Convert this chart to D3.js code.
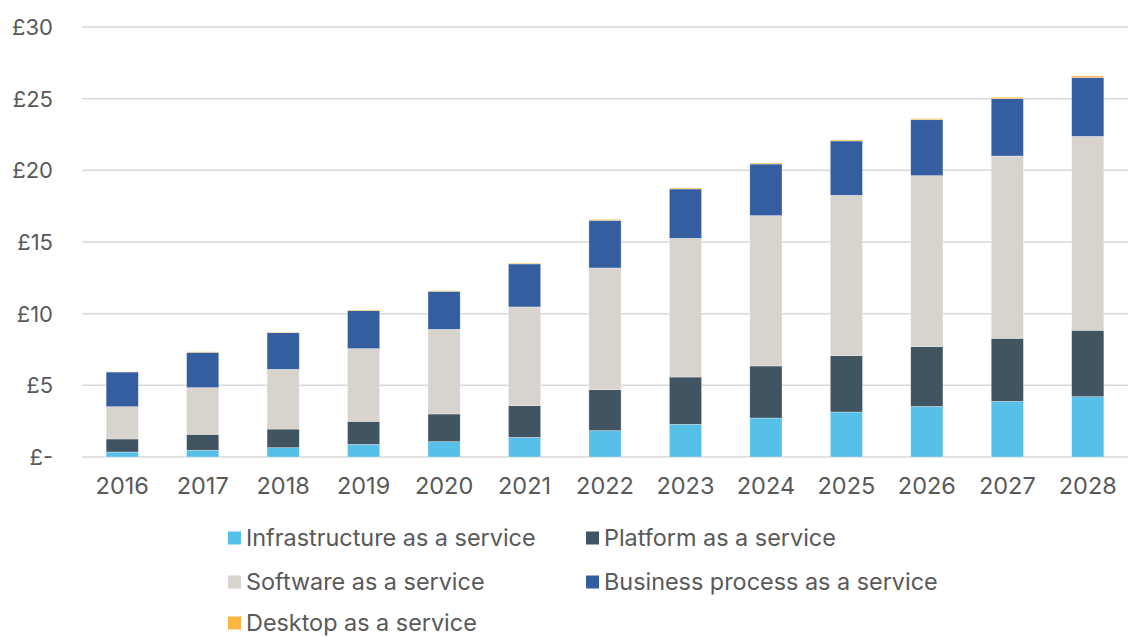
<!DOCTYPE html>
<meta charset="utf-8">
<style>
  body { margin: 0; background: #fff; }
  svg text { font-family: Inter, Roboto, "Noto Sans", sans-serif; fill: #595959; }
  .grid line { stroke: #d9d9d9; stroke-width: 1.5px; }
</style>
<svg width="1128" height="637"></svg>
<script src="https://cdn.jsdelivr.net/npm/d3@7"></script>
<script>

  // categories and series (values in £bn)
  var years = ["2016", "2017", "2018", "2019", "2020", "2021", "2022", "2023", "2024", "2025", "2026", "2027", "2028"];
  var seriesNames = ["Infrastructure as a service", "Platform as a service", "Software as a service",
    "Business process as a service", "Desktop as a service"];
  var iaas  = [0.35, 0.47, 0.65, 0.88, 1.07, 1.37, 1.84, 2.28, 2.72, 3.14, 3.53, 3.88, 4.21];
  var paas  = [0.91, 1.11, 1.30, 1.61, 1.93, 2.21, 2.86, 3.30, 3.63, 3.93, 4.17, 4.40, 4.63];
  var saas  = [2.25, 3.26, 4.17, 5.07, 5.91, 6.89, 8.49, 9.68, 10.49, 11.19, 11.93, 12.72, 13.53];
  var bpaas = [2.42, 2.46, 2.55, 2.65, 2.65, 3.00, 3.32, 3.44, 3.60, 3.79, 3.90, 4.00, 4.10];
  var daas  = [0.02, 0.04, 0.05, 0.05, 0.05, 0.06, 0.07, 0.07, 0.07, 0.07, 0.08, 0.10, 0.12];
  var yTicks = [0, 5, 10, 15, 20, 25, 30];
  var colors = ["#56c0e8", "#405462", "#d8d3cd", "#345e9f", "#fdb544"];

  var svg = d3.select("svg");

  // table for d3.stack
  var keys = ["iaas", "paas", "saas", "bpaas", "daas"];
  var table = years.map(function (y, i) {
    return { year: y, iaas: iaas[i], paas: paas[i], saas: saas[i], bpaas: bpaas[i], daas: daas[i] };
  });
  var stacked = d3.stack().keys(keys)(table);

  var x = d3.scaleBand()
    .domain(years)
    .range([82, 1128])
    .paddingInner(0.6)
    .paddingOuter(0.3);

  var y = d3.scaleLinear()
    .domain([0, 30])
    .range([457, 27]);

  var color = d3.scaleOrdinal().domain(keys).range(colors);

  // gridlines
  svg.append("g")
    .attr("class", "grid")
    .selectAll("line")
    .data(yTicks)
    .enter().append("line")
    .attr("x1", 82)
    .attr("x2", 1128)
    .attr("y1", function (d) { return y(d); })
    .attr("y2", function (d) { return y(d); });

  // y labels
  svg.append("g")
    .selectAll("text")
    .data(yTicks)
    .enter().append("text")
    .attr("x", 53)
    .attr("y", function (d) { return y(d); })
    .attr("dy", "0.36em")
    .attr("text-anchor", "end")
    .style("font-size", "22px")
    .text(function (d) { return d === 0 ? "£-" : "£" + d; });

  // bars
  svg.append("g")
    .selectAll("g")
    .data(stacked)
    .enter().append("g")
    .attr("fill", function (d) { return color(d.key); })
    .selectAll("rect")
    .data(function (d) { return d; })
    .enter().append("rect")
    .attr("x", function (d) { return x(d.data.year); })
    .attr("width", x.bandwidth())
    .attr("y", function (d) { return y(d[1]); })
    .attr("height", function (d) { return y(d[0]) - y(d[1]); })
    .attr("stroke", "#fff")
    .attr("stroke-opacity", 0.5)
    .attr("stroke-width", 0.6);

  // x labels
  svg.append("g")
    .selectAll("text")
    .data(years)
    .enter().append("text")
    .attr("x", function (d) { return x(d) + x.bandwidth() / 2; })
    .attr("y", 494)
    .attr("text-anchor", "middle")
    .style("font-size", "23.5px")
    .text(function (d) { return d; });

  // legend
  var legendPos = [[228, 538], [586, 538], [228, 582], [586, 582], [228, 623]];
  var legend = svg.append("g")
    .selectAll("g")
    .data(seriesNames)
    .enter().append("g")
    .attr("transform", function (d, i) { return "translate(" + legendPos[i][0] + "," + legendPos[i][1] + ")"; });

  legend.append("rect")
    .attr("x", 0)
    .attr("y", -6.5)
    .attr("width", 13)
    .attr("height", 13)
    .attr("fill", function (d, i) { return colors[i]; });

  legend.append("text")
    .attr("x", 18)
    .attr("dy", "0.34em")
    .style("font-size", "23.4px")
    .text(function (d) { return d; });

</script>
